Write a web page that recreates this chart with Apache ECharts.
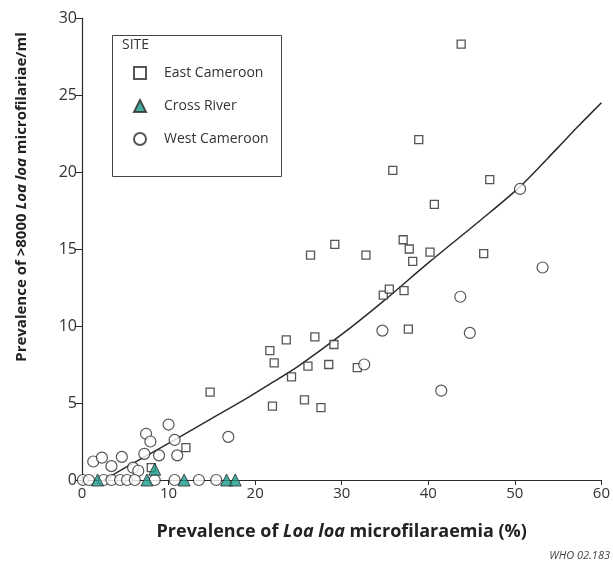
<!DOCTYPE html>
<html>
<head>
<meta charset="utf-8">
<script src="https://cdn.jsdelivr.net/npm/echarts@6/dist/echarts.min.js"></script>
<style>
  html, body { margin: 0; padding: 0; background: #fff; }
  #main { width: 613px; height: 566px; }
</style>
</head>
<body>
<div id="main"></div>
<script>
  // 数据：横轴 = 微丝蚴血症患病率 (%)，纵轴 = >8000 mf/ml 患病率 (%)
  var eastCameroon = [
    [14.8, 5.7], [12.0, 2.1], [8.0, 0.8],
    [21.7, 8.4], [23.6, 9.1], [26.9, 9.3], [29.1, 8.8], [22.2, 7.6], [26.1, 7.4],
    [28.5, 7.5], [31.8, 7.3], [24.2, 6.7], [22.0, 4.8], [25.7, 5.2], [27.6, 4.7],
    [37.7, 9.8], [43.8, 28.3], [38.9, 22.1], [35.9, 20.1], [47.1, 19.5], [40.7, 17.9],
    [29.2, 15.3], [26.4, 14.6], [32.8, 14.6], [37.1, 15.6], [37.8, 15.0], [40.2, 14.8],
    [38.2, 14.2], [46.4, 14.7], [34.8, 12.0], [35.5, 12.4], [37.2, 12.3]
  ];
  var crossRiver = [[1.8, 0], [7.5, 0], [8.4, 0.7], [11.8, 0], [16.7, 0], [17.7, 0]];
  var westCameroon = [
    [1.3, 1.2], [2.3, 1.45], [3.4, 0.9], [4.6, 1.5], [5.9, 0.8], [6.5, 0.6], [7.2, 1.7],
    [7.4, 3.0], [7.9, 2.5], [8.9, 1.6], [10.0, 3.6], [10.7, 2.6], [11.0, 1.6], [16.9, 2.8],
    [0.1, 0], [0.8, 0], [2.5, 0], [3.4, 0], [4.4, 0], [5.2, 0], [6.1, 0], [8.4, 0],
    [10.7, 0], [13.5, 0], [15.5, 0],
    [32.6, 7.5], [34.7, 9.7], [41.5, 5.8], [50.6, 18.9], [53.2, 13.8], [43.7, 11.9], [44.8, 9.55]
  ];
  // 拟合曲线
  var trendX = [2.6, 5, 10.7, 15, 19.3, 21.6, 25, 30, 35, 40, 46.1, 50.5, 55, 57.2, 60];
  var trendY = [0, 0.8, 2.6, 4.0, 5.4, 6.2, 7.4, 9.45, 11.7, 14.1, 16.9, 19.0, 21.6, 22.9, 24.5];

  var font = 'Open Sans';
  var teal = '#1a9a8a';
  var dark = '#2b2b2b';

  var trend = trendX.map(function (x, i) { return [x, trendY[i]]; });

  var myChart = echarts.init(document.getElementById('main'));
  myChart.setOption({
    animation: false,
    grid: { left: 82, top: 18, right: 9, bottom: 86 },
    xAxis: {
      type: 'value', min: 0, max: 60, interval: 10,
      name: 'Prevalence of {i|Loa loa} microfilaraemia (%)',
      nameLocation: 'middle', nameGap: 43,
      nameTextStyle: {
        fontFamily: font, fontWeight: 'bold', fontSize: 18, color: '#222',
        rich: { i: { fontFamily: font, fontWeight: 'bold', fontStyle: 'italic', fontSize: 18, color: '#222' } }
      },
      axisLine: { lineStyle: { color: dark, width: 1.2 } },
      axisTick: { show: true, length: 5, lineStyle: { color: dark } },
      axisLabel: { fontFamily: font, fontSize: 15, color: '#333', margin: 6 },
      splitLine: { show: false }
    },
    yAxis: {
      type: 'value', min: 0, max: 30, interval: 5,
      name: 'Prevalence of >8000 {i|Loa loa} microfilariae/ml',
      nameLocation: 'middle', nameGap: 53, nameRotate: 90,
      nameTextStyle: {
        fontFamily: font, fontWeight: 'bold', fontSize: 15, color: '#222',
        padding: [0, 0, 0, 104],
        rich: { i: { fontFamily: font, fontWeight: 'bold', fontStyle: 'italic', fontSize: 15, color: '#222' } }
      },
      axisLine: { show: true, lineStyle: { color: dark, width: 1.2 } },
      axisTick: { show: true, length: 7, lineStyle: { color: dark } },
      axisLabel: { fontFamily: font, fontSize: 16, color: '#333', margin: 5 },
      splitLine: { show: false }
    },
    legend: {
      orient: 'vertical', left: 128, top: 61,
      itemWidth: 12, itemHeight: 12, itemGap: 19,
      textStyle: { fontFamily: font, fontSize: 14, color: '#333', padding: [0, 0, 0, 13] },
      data: ['East Cameroon', 'Cross River', 'West Cameroon']
    },
    graphic: [
      { type: 'rect', left: 110, top: 33, shape: { width: 169, height: 141 },
        style: { fill: 'none', stroke: '#444', lineWidth: 1 }, z: 0 },
      { type: 'text', left: 122, top: 38,
        style: { text: 'SITE', fontFamily: font, fontSize: 14, fill: '#333' } },
      { type: 'text', right: 3, top: 550,
        style: { text: 'WHO 02.183', fontFamily: font, fontSize: 11, fontStyle: 'italic', fill: '#444' } }
    ],
    series: [
      {
        name: 'East Cameroon', type: 'scatter', data: eastCameroon,
        symbol: 'rect', symbolSize: 8,
        itemStyle: { color: '#fff', borderColor: dark, borderWidth: 1.3 }
      },
      {
        name: 'West Cameroon', type: 'scatter', data: westCameroon,
        symbol: 'circle', symbolSize: 11,
        itemStyle: { color: '#fff', borderColor: dark, borderWidth: 1.2 }
      },
      {
        name: 'Cross River', type: 'scatter', data: crossRiver,
        symbol: 'triangle', symbolSize: 12,
        itemStyle: { color: teal, borderColor: dark, borderWidth: 1 }
      },
      {
        name: 'trend', type: 'line', data: trend, smooth: 0.3,
        symbol: 'none', z: 1,
        lineStyle: { color: dark, width: 1.5 }
      }
    ]
  });
</script>
</body>
</html>
